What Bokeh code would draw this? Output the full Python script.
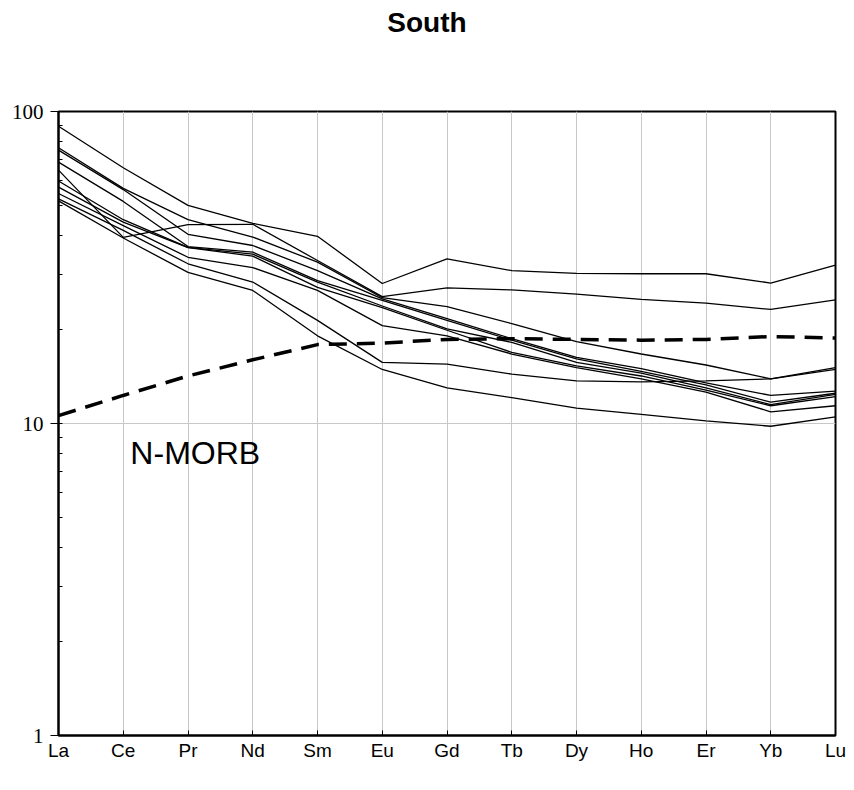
from bokeh.plotting import figure
from bokeh.models import FixedTicker, Range1d, Label, Div
from bokeh.layouts import column
from bokeh.embed import file_html
from bokeh.resources import INLINE

# Chondrite-normalised REE patterns
elements = ["La", "Ce", "Pr", "Nd", "Sm", "Eu", "Gd", "Tb", "Dy", "Ho", "Er", "Yb", "Lu"]

s01 = [89.7, 66.0, 50.0, 43.8, 39.8, 28.1, 33.7, 30.9, 30.3, 30.2, 30.2, 28.2, 32.2]
s02 = [76.5, 56.7, 45.0, 39.6, 32.9, 25.3, 23.7, 20.9, 18.3, 16.7, 15.4, 13.9, 15.1]
s03 = [75.2, 56.2, 40.4, 37.2, 30.9, 25.1, 21.7, 18.7, 16.3, 15.0, 13.5, 12.3, 12.7]
s04 = [68.8, 51.5, 36.9, 35.4, 28.7, 24.8, 21.4, 18.5, 16.1, 14.7, 13.3, 11.7, 12.5]
s05 = [64.9, 39.5, 43.4, 43.5, 33.3, 25.5, 27.2, 26.8, 26.0, 25.0, 24.3, 23.2, 24.9]
s06 = [59.9, 45.0, 36.7, 34.9, 28.4, 23.8, 20.1, 18.2, 15.7, 14.5, 13.0, 11.5, 12.4]
s07 = [57.2, 44.2, 36.6, 34.4, 27.3, 23.5, 19.9, 16.9, 15.3, 14.2, 12.8, 11.4, 12.2]
s08 = [54.6, 43.1, 34.1, 31.6, 26.7, 20.6, 19.1, 16.7, 15.1, 13.9, 12.6, 10.9, 11.4]
s09 = [52.5, 41.6, 32.5, 28.4, 21.4, 15.7, 15.5, 14.4, 13.7, 13.6, 13.7, 13.9, 14.9]
s10 = [51.7, 39.3, 30.5, 26.7, 19.1, 14.9, 13.0, 12.1, 11.2, 10.7, 10.2, 9.8, 10.5]

# N-MORB reference pattern
nmorb = [10.6, 12.3, 14.2, 16.0, 17.9, 18.1, 18.6, 18.7, 18.6, 18.5, 18.6, 19.0, 18.8]

samples = [s01, s02, s03, s04, s05, s06, s07, s08, s09, s10]
xs = list(range(len(elements)))

SANS = "Liberation Sans"
SERIF = "Liberation Serif"

HEAD_H = 46

heading = Div(
    text=(
        "<div style=\"width:854px;height:%dpx;line-height:%dpx;"
        "text-align:center;font-family:'Liberation Sans',Arial,sans-serif;"
        "font-weight:bold;font-size:28px;color:black;\">South</div>" % (HEAD_H, HEAD_H)
    ),
    width=854, height=HEAD_H, margin=(0, 0, 0, 0),
)

p = figure(
    width=854, height=790 - HEAD_H,
    title=None,
    y_axis_type="log",
    x_range=Range1d(0, len(elements) - 1),
    y_range=Range1d(1, 100),
    output_backend="svg",
    toolbar_location=None,
    min_border_left=58, min_border_right=19,
    min_border_top=111 - HEAD_H, min_border_bottom=55,
    background_fill_color="white",
    border_fill_color="white",
    margin=(0, 0, 0, 0),
)

p.outline_line_color = "black"
p.outline_line_width = 2
p.outline_line_alpha = 1

# x axis: element names
p.xaxis.ticker = FixedTicker(ticks=xs, minor_ticks=[])
p.xaxis.major_label_overrides = {i: e for i, e in enumerate(elements)}
p.xaxis.major_label_text_font = SANS
p.xaxis.major_label_text_font_size = "19px"
p.xaxis.major_label_text_color = "black"
p.xaxis.major_label_standoff = 4
p.xaxis.major_tick_in = 5
p.xaxis.major_tick_out = 0
p.xaxis.axis_line_width = 2
p.xaxis.axis_line_color = "black"
p.xaxis.major_tick_line_color = "black"

# y axis: log scale
p.yaxis.ticker = FixedTicker(
    ticks=[1, 10, 100],
    minor_ticks=[2, 3, 4, 5, 6, 7, 8, 9, 20, 30, 40, 50, 60, 70, 80, 90],
)
p.yaxis.major_label_overrides = {1: "1", 10: "10", 100: "100"}
p.yaxis.major_label_text_font = SERIF
p.yaxis.major_label_text_font_size = "21px"
p.yaxis.major_label_text_color = "black"
p.yaxis.major_label_standoff = 7
p.yaxis.major_tick_in = 4
p.yaxis.major_tick_out = 8
p.yaxis.minor_tick_in = 4
p.yaxis.minor_tick_out = 0
p.yaxis.axis_line_width = 2
p.yaxis.axis_line_color = "black"
p.yaxis.major_tick_line_color = "black"
p.yaxis.minor_tick_line_color = "black"

# grid: verticals at each element, one horizontal at 10
p.xgrid.ticker = FixedTicker(ticks=xs)
p.xgrid.grid_line_color = "#c8c8c8"
p.xgrid.grid_line_width = 1
p.ygrid.ticker = FixedTicker(ticks=[10])
p.ygrid.grid_line_color = "#c8c8c8"
p.ygrid.grid_line_width = 1

for s in samples:
    p.line(xs, s, line_color="black", line_width=1.3)

p.line(xs, nmorb, line_color="black", line_width=3.5, line_dash="18 10")

p.add_layout(Label(
    x=1.11, y=8.07, text="N-MORB",
    text_font=SANS, text_font_size="32px",
    text_color="black", text_baseline="middle",
))

page = column(heading, p, spacing=0)

open("out.html", "w").write(file_html(page, INLINE))
